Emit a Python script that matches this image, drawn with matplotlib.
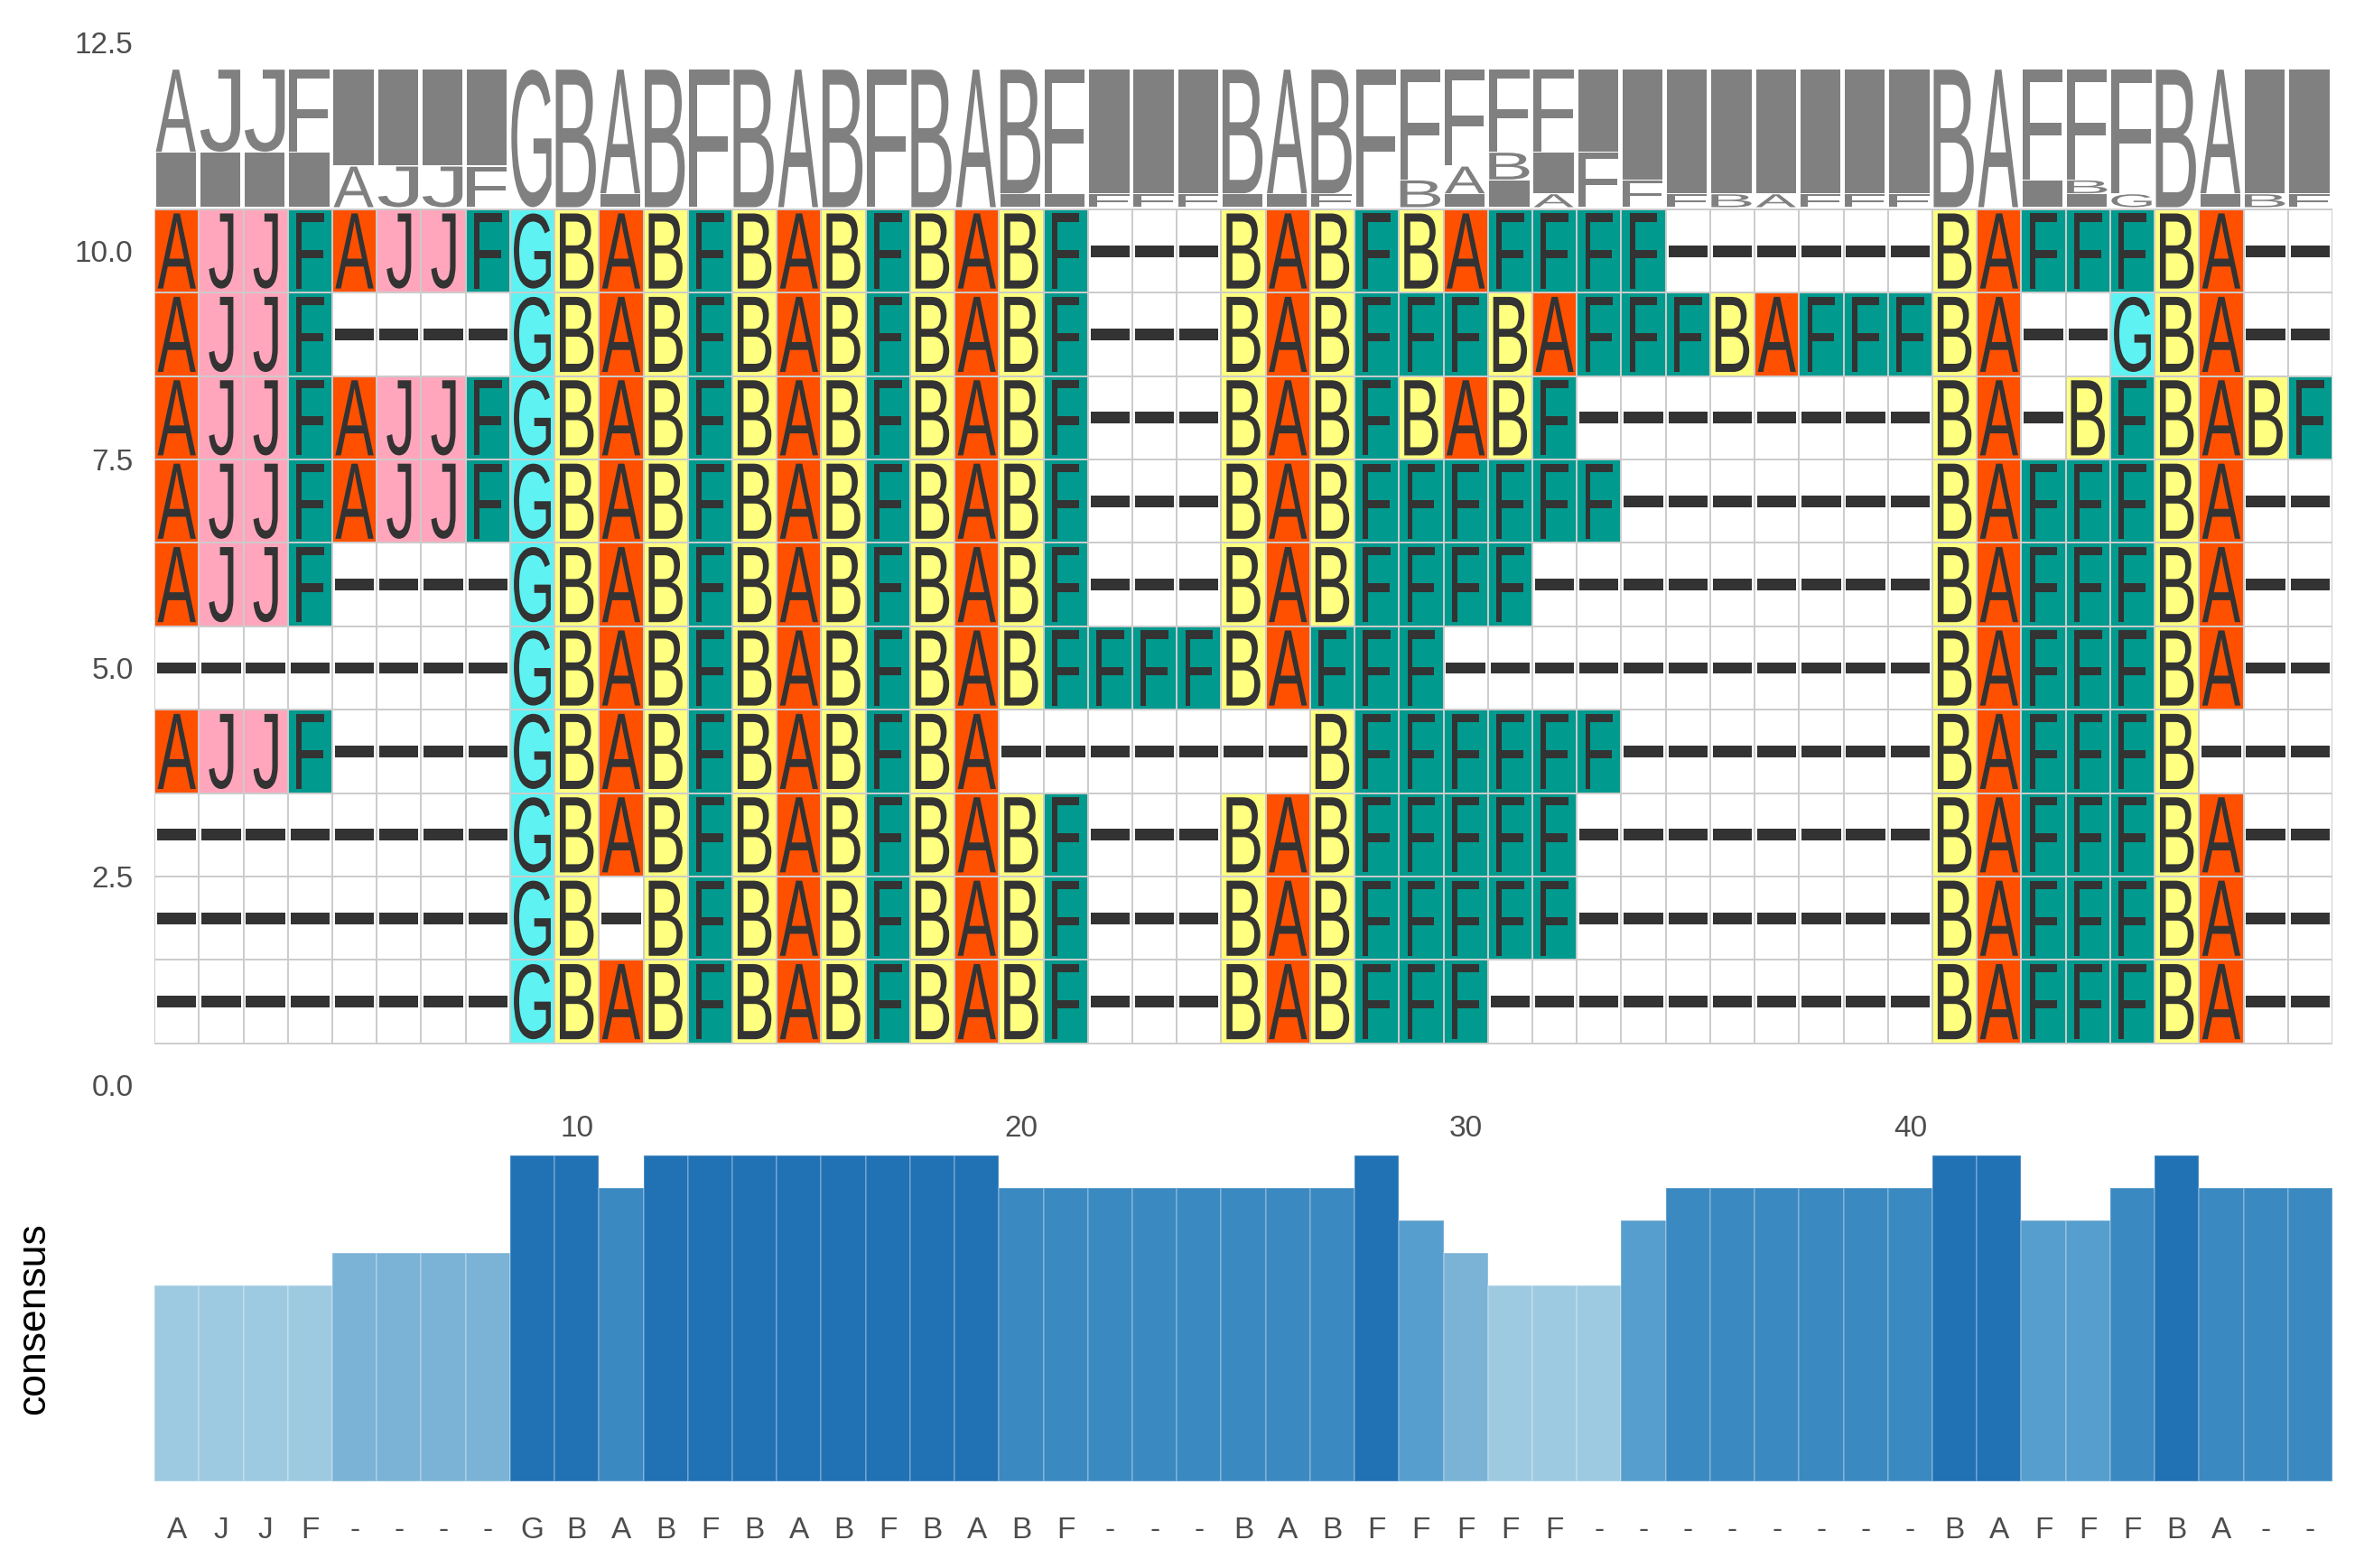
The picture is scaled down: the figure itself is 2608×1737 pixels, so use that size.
import matplotlib
matplotlib.use("Agg")
from matplotlib import pyplot as plt
from matplotlib import patheffects
from matplotlib.patches import Rectangle
from matplotlib.transforms import Affine2D
from matplotlib.colors import LinearSegmentedColormap, Normalize

# alignment, top row first
seqs = [
    "AJJFAJJFGBABFBABFBABF---BABFBAFFFF------BAFFFBA--",
    "AJJF----GBABFBABFBABF---BABFFFBAFFFBAFFFBA--GBA--",
    "AJJFAJJFGBABFBABFBABF---BABFBABF--------BA-BFBABF",
    "AJJFAJJFGBABFBABFBABF---BABFFFFFF-------BAFFFBA--",
    "AJJF----GBABFBABFBABF---BABFFFF---------BAFFFBA--",
    "--------GBABFBABFBABFFFFBAFFF-----------BAFFFBA--",
    "AJJF----GBABFBABFBA-------BFFFFFF-------BAFFFB---",
    "--------GBABFBABFBABF---BABFFFFF--------BAFFFBA--",
    "--------GB-BFBABFBABF---BABFFFFF--------BAFFFBA--",
    "--------GBABFBABFBABF---BABFFF----------BAFFFBA--",
]
consensus = list("AJJF----GBABFBABFBABF---BABFFFFF--------BAFFFBA--")
consensus_freq = [0.6, 0.6, 0.6, 0.6, 0.7, 0.7, 0.7, 0.7,
                  1.0, 1.0, 0.9, 1.0, 1.0, 1.0, 1.0, 1.0, 1.0, 1.0, 1.0,
                  0.9, 0.9, 0.9, 0.9, 0.9, 0.9, 0.9, 0.9,
                  1.0, 0.8, 0.7, 0.6, 0.6, 0.6, 0.8,
                  0.9, 0.9, 0.9, 0.9, 0.9, 0.9,
                  1.0, 1.0, 0.8, 0.8, 0.9, 1.0, 0.9, 0.9, 0.9]
positions = list(range(1, len(consensus) + 1))

fill = {"A": "#FF5000", "J": "#FFA6BC", "F": "#009A8E", "G": "#5FF2F2", "B": "#FFFF80"}
glyph_w = {"A": 0.86, "J": 0.55, "F": 0.62, "G": 0.83, "B": 0.76}

plt.rcParams["font.family"] = ["Liberation Sans", "DejaVu Sans"]


class FitBox(patheffects.AbstractPathEffect):
    """stretch the glyph so its ink fills a box given in data coords"""

    def __init__(self, ax, x0, y0, x1, y1):
        super().__init__()
        self.ax = ax
        self.box = (x0, y0, x1, y1)

    def draw_path(self, renderer, gc, tpath, affine, rgbFace=None):
        x0, y0, x1, y1 = self.box
        (px0, py0), (px1, py1) = self.ax.transData.transform([(x0, y0), (x1, y1)])
        ext = tpath.get_extents(affine)
        if ext.width <= 0 or ext.height <= 0:
            return
        fit = (Affine2D().translate(-ext.x0, -ext.y0)
               .scale((px1 - px0) / ext.width, (py1 - py0) / ext.height)
               .translate(px0, py0))
        renderer.draw_path(gc, tpath, affine + fit, rgbFace)


fig = plt.figure(figsize=(13.04, 8.685), dpi=200)
ax = fig.add_axes([0.0656, 0.3080, 0.9248, 0.6649])
ax2 = fig.add_axes([0.0656, 0.0553, 0.9248, 0.2078])

# alignment cells
n_rows = len(seqs)
for i, seq in enumerate(seqs):
    y = n_rows - i
    for j, ch in enumerate(seq):
        x = positions[j]
        ax.add_patch(Rectangle((x - 0.5, y - 0.5), 1, 1, facecolor=fill.get(ch, "white"),
                               edgecolor="#CCCCCC", lw=0.7))
        if ch == "-":
            box = (x - 0.44, y - 0.07, x + 0.44, y + 0.07)
        else:
            w = glyph_w[ch] / 2
            box = (x - w, y - 0.45, x + w, y + 0.45)
        ax.text(x, y, ch, fontsize=8, color="#333333", ha="center", va="center",
                clip_on=False, path_effects=[FitBox(ax, *box)])

# sequence logo (probability stacked, biggest on top)
logo_base = 10.52
logo_h = 1.66
for j, x in enumerate(positions):
    col = [s[j] for s in seqs]
    counts = {}
    for ch in col:
        counts[ch] = counts.get(ch, 0) + 1
    bottom = logo_base
    for ch, n in sorted(counts.items(), key=lambda kv: (kv[1], kv[0])):
        h = logo_h * n / len(col)
        # keep the unstretched text box inside its slot
        fs = min(8, h * 20)
        ax.text(x, bottom + h / 2, ch, fontsize=fs, color="#808080", ha="center", va="center",
                clip_on=False,
                path_effects=[FitBox(ax, x - 0.47, bottom + 0.006, x + 0.43, bottom + h - 0.006)])
        bottom += h

ax.set_xlim(0.5, len(positions) + 0.5)
ax.set_ylim(0, 12.5)
ax.set_yticks([0, 2.5, 5, 7.5, 10, 12.5])
ax.set_yticklabels(["0.0", "2.5", "5.0", "7.5", "10.0", "12.5"])
ax.set_xticks([10, 20, 30, 40])
ax.tick_params(length=0, labelsize=12, labelcolor="#4D4D4D")
ax.tick_params(axis="x", pad=12)
ax.tick_params(axis="y", pad=8.5)
for s in ax.spines.values():
    s.set_visible(False)

# consensus bars
cmap = LinearSegmentedColormap.from_list(
    "cons", ["#9ECAE1", "#7BB3D7", "#569ECD", "#3B89C1", "#2171B5"])
norm = Normalize(0.6, 1.0)
ax2.bar(positions, consensus_freq, width=1.0, color=[cmap(norm(v)) for v in consensus_freq],
        edgecolor=(1, 1, 1, 0.25), linewidth=0.6)
ax2.set_xlim(0.5, len(positions) + 0.5)
ax2.set_ylim(0, 1.0)
ax2.set_xticks(positions)
ax2.set_xticklabels(consensus)
ax2.set_yticks([])
ax2.tick_params(length=0, labelsize=12, labelcolor="#4D4D4D", pad=14)
ax2.set_ylabel("consensus", fontsize=16, color="black")
ax2.yaxis.set_label_coords(-0.047, 0.5)
for s in ax2.spines.values():
    s.set_visible(False)

fig.savefig("out.png", dpi=200)
